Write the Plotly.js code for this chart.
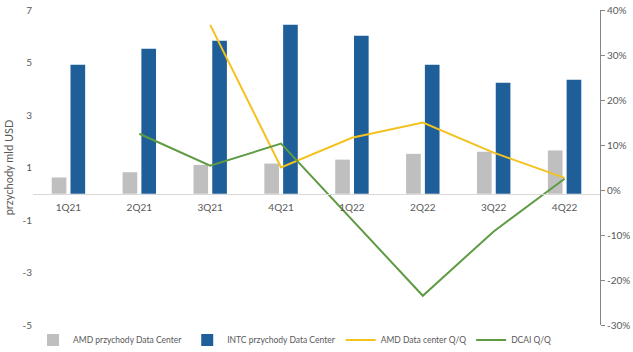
<!DOCTYPE html>
<html>
<head>
<meta charset="utf-8">
<script src="https://cdn.plot.ly/plotly-3.0.1.min.js"></script>
<style>html,body{margin:0;padding:0;background:#fff;}#chart{width:633px;height:352px;}</style>
</head>
<body>
<div id="chart"></div>
<script>
const quarters = ['1Q21','2Q21','3Q21','4Q21','1Q22','2Q22','3Q22','4Q22'];
const amdRevenue = [0.62, 0.82, 1.1, 1.15, 1.3, 1.52, 1.6, 1.65];
const intcRevenue = [4.91, 5.52, 5.83, 6.44, 6.02, 4.91, 4.23, 4.34];
const amdQoQ = [null, null, 0.367, 0.05, 0.116, 0.15, 0.083, 0.027];
const dcaiQoQ = [null, 0.125, 0.054, 0.103, -0.065, -0.235, -0.092, 0.025];
const leftTicks = [-5, -3, -1, 1, 3, 5, 7];
const rightTicks = [-0.3, -0.2, -0.1, 0, 0.1, 0.2, 0.3, 0.4];

const font = {family: 'Lato, "Open Sans", sans-serif', size: 10, color: '#595959'};
const legendFont = {family: 'Lato, "Open Sans", sans-serif', size: 8.5, color: '#595959'};

const traces = [
  {type: 'bar', name: 'AMD przychody Data Center', x: quarters, y: amdRevenue,
   marker: {color: '#BFBFBF'}, hoverinfo: 'none'},
  {type: 'bar', name: 'INTC przychody Data Center', x: quarters, y: intcRevenue,
   marker: {color: '#1F5F99'}, hoverinfo: 'none'},
  {type: 'scatter', mode: 'lines', name: 'AMD Data center Q/Q', x: quarters, y: amdQoQ,
   yaxis: 'y2', line: {color: '#F3C21F', width: 2}, connectgaps: false},
  {type: 'scatter', mode: 'lines', name: 'DCAI Q/Q', x: quarters, y: dcaiQoQ,
   yaxis: 'y2', line: {color: '#5E9B43', width: 2}, connectgaps: false}
];

const layout = {
  width: 633, height: 352,
  margin: {l: 33, r: 33, t: 10, b: 27, autoexpand: false},
  paper_bgcolor: '#ffffff', plot_bgcolor: '#ffffff',
  font: font,
  showlegend: true,
  barmode: 'group', bargap: 0.47, bargroupgap: 0.22,
  xaxis: {
    type: 'category', anchor: 'free', position: 5/12,
    showline: true, linecolor: '#D9D9D9', linewidth: 1,
    ticks: '', showgrid: false, zeroline: false,
    tickfont: font, ticklabelstandoff: 4
  },
  yaxis: {
    range: [-5, 7], tickvals: leftTicks, ticktext: leftTicks.map(String),
    showgrid: false, zeroline: false, showline: false, ticks: '',
    tickfont: font,
    title: {text: 'przychody mld USD', font: {family: font.family, size: 11, color: '#595959'}, standoff: 6}
  },
  yaxis2: {
    overlaying: 'y', side: 'right', range: [-0.3, 0.4],
    tickvals: rightTicks, ticktext: rightTicks.map(v => Math.round(v*100) + '%'),
    showgrid: false, zeroline: false, showline: true, linecolor: '#868686', linewidth: 1,
    ticks: 'outside', ticklen: 4, tickcolor: '#868686',
    tickfont: font
  },
  legend: {
    orientation: 'h', x: 0.0, xanchor: 'left', y: -0.048, yanchor: 'middle',
    font: legendFont, itemwidth: 30, traceorder: 'normal', tracegroupgap: 0
  }
};

Plotly.newPlot('chart', traces, layout, {staticPlot: true, displayModeBar: false});
</script>
</body>
</html>
